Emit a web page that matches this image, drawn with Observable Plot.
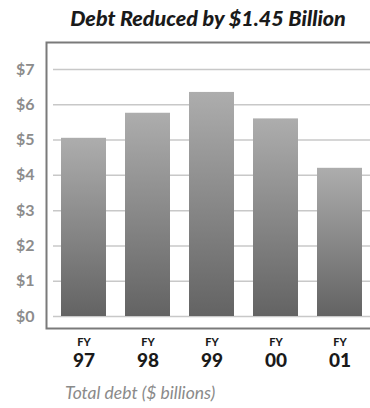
<!DOCTYPE html>
<html><head><meta charset="utf-8">
<script src="https://cdn.jsdelivr.net/npm/d3@7"></script>
<script src="https://cdn.jsdelivr.net/npm/@observablehq/plot@0.6"></script>
<style>
body{margin:0;background:#fff;width:370px;overflow:hidden;}
#title{height:34px;line-height:36px;padding-left:46px;text-align:center;font-family:Lato,"Open Sans",sans-serif;font-weight:900;font-style:italic;font-size:21.5px;color:#1a1a1a;white-space:nowrap;}
#caption{height:28px;line-height:26px;padding-left:65px;font-family:Lato,"Open Sans",sans-serif;font-style:italic;font-size:17.5px;color:#8a8a8a;}
svg{display:block;}
</style></head><body>
<div id="title">Debt Reduced by $1.45 Billion</div>
<div id="chart"></div>
<div id="caption">Total debt ($ billions)</div>
<script>
const years = ["97", "98", "99", "00", "01"];
const debt = [5.05, 5.76, 6.35, 5.6, 4.2];
const yTicks = [0, 1, 2, 3, 4, 5, 6, 7];
const yTickLabels = ["$0", "$1", "$2", "$3", "$4", "$5", "$6", "$7"];

const data = years.map((y, i) => ({year: y, debt: debt[i]}));

const plot = Plot.plot({
  width: 370,
  height: 346,
  marginTop: 35,
  marginBottom: 64,
  marginLeft: 53,
  marginRight: 0,
  style: {fontFamily: "Lato, 'Open Sans', sans-serif", background: "#fff"},
  x: {domain: years, range: [60, 363], padding: 0.3, paddingOuter: 0, axis: null},
  y: {domain: [0, 7], axis: null},
  marks: [
    Plot.ruleY(yTicks, {stroke: "#c8c8c8", strokeWidth: 1.5}),
    Plot.barY(data, {x: "year", y: "debt", fill: "url(#barGrad)"}),
    Plot.frame({stroke: "#7a7a7a", strokeWidth: 2, insetLeft: -7, insetTop: -27, insetBottom: -12, insetRight: -10}),
    Plot.text(yTicks, {x: null, y: d => d, frameAnchor: "left", dx: -19, textAnchor: "end", text: (d, i) => yTickLabels[i], fill: "#8c8c8c", fontWeight: "bold", fontSize: 16}),
    Plot.text(years, {x: d => d, y: 0, dy: 26, text: () => "FY", fill: "#1a1a1a", fontWeight: 900, fontSize: 11}),
    Plot.text(years, {x: d => d, y: 0, dy: 44, text: d => d, fill: "#1a1a1a", fontWeight: 900, fontSize: 19})
  ]
});

const svg = d3.select(plot);
const defs = svg.insert("defs", ":first-child");
const g = defs.append("linearGradient").attr("id", "barGrad").attr("x1", 0).attr("y1", 0).attr("x2", 0).attr("y2", 1);
g.append("stop").attr("offset", "0%").attr("stop-color", "#adadad");
g.append("stop").attr("offset", "100%").attr("stop-color", "#636363");

document.getElementById("chart").appendChild(plot);
</script>
</body></html>
